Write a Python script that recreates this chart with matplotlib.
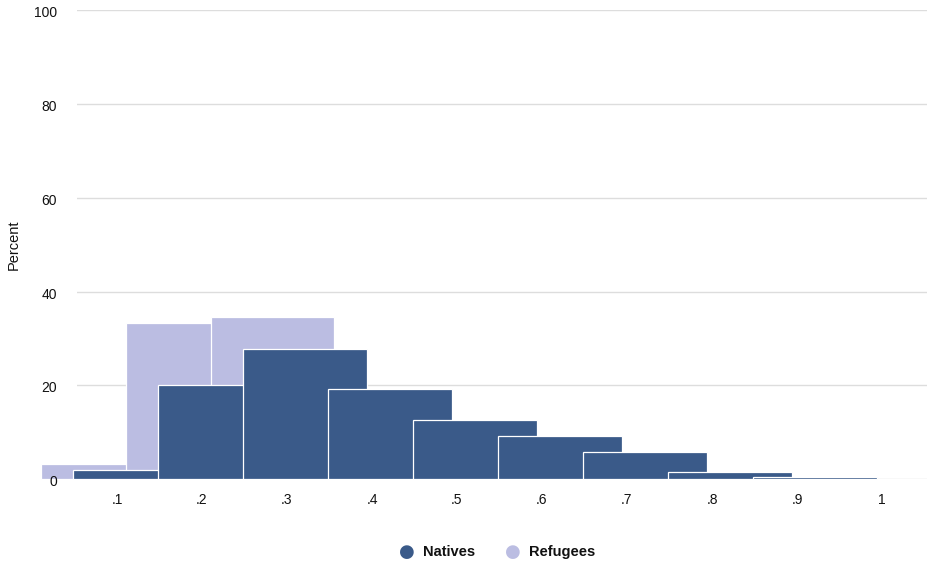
import matplotlib.pyplot as plt
import numpy as np

plt.rcParams["font.family"] = ["Liberation Sans", "DejaVu Sans"]

# data
tick_vals = [0.1, 0.2, 0.3, 0.4, 0.5, 0.6, 0.7, 0.8, 0.9, 1.0]
tick_labels = [".1", ".2", ".3", ".4", ".5", ".6", ".7", ".8", ".9", "1"]
y_ticks = [0, 20, 40, 60, 80, 100]
natives_x = [0.1, 0.2, 0.3, 0.4, 0.5, 0.6, 0.7, 0.8, 0.9]
natives = [1.9, 20.1, 27.8, 19.3, 12.7, 9.3, 5.8, 1.5, 0.4]
refugees_x = [0.1, 0.2, 0.3]
refugees = [3.2, 33.2, 34.5]

c_nat = "#3a5a89"
c_ref = "#bbbde2"
bar_w = 0.145

fig = plt.figure(figsize=(9.28, 5.62), dpi=100)
W, H = 928, 562
ax = fig.add_axes([77 / W, 1 - 479.3 / H, (W - 77) / W, (479.3 - 10) / H])

# pixel -> value: x(v) = 32 + 850 v
ax.set_xlim((77 - 32) / 850, (928 - 32) / 850)
ax.set_ylim(0, 100)

for v in y_ticks:
    ax.axhline(v, color="#dddddd", lw=1, zorder=0)

ax.bar(np.array(refugees_x) - 0.0894, refugees, width=bar_w, align="edge",
       color=c_ref, edgecolor="white", linewidth=0.9, clip_on=False, zorder=2)
ax.bar(np.array(natives_x) - 0.0514, natives, width=bar_w, align="edge",
       color=c_nat, edgecolor="white", linewidth=0.9, clip_on=False, zorder=3)

ax.set_xticks(tick_vals)
ax.set_xticklabels(tick_labels)
ax.set_yticks([])
ax.tick_params(axis="x", length=0, pad=10, labelsize=10, labelcolor="#111111")
for s in ax.spines.values():
    s.set_visible(False)

# y labels drawn on top of the bars, like the original
for v in y_ticks:
    ax.annotate(str(v), xy=(57, v), xycoords=("figure pixels", "data"),
                xytext=(0, -2.2), textcoords="offset points", ha="right",
                va="center", fontsize=10, color="#111111", zorder=10,
                annotation_clip=False)

fig.text(14 / W, 1 - 244.6 / H, "Percent", rotation=90, ha="center", va="center",
         fontsize=10.5, color="#111111")

# legend
ly = 1 - 552 / H
fig.text(407 / W, ly, "\u25cf", color=c_nat, fontsize=13, ha="center", va="center",
         family="DejaVu Sans")
fig.text(423 / W, ly, "Natives", fontweight="bold", fontsize=10.5, ha="left", va="center", color="#111111")
fig.text(513 / W, ly, "\u25cf", color=c_ref, fontsize=13, ha="center", va="center",
         family="DejaVu Sans")
fig.text(529 / W, ly, "Refugees", fontweight="bold", fontsize=10.5, ha="left", va="center", color="#111111")

fig.savefig("out.png", dpi=100)
